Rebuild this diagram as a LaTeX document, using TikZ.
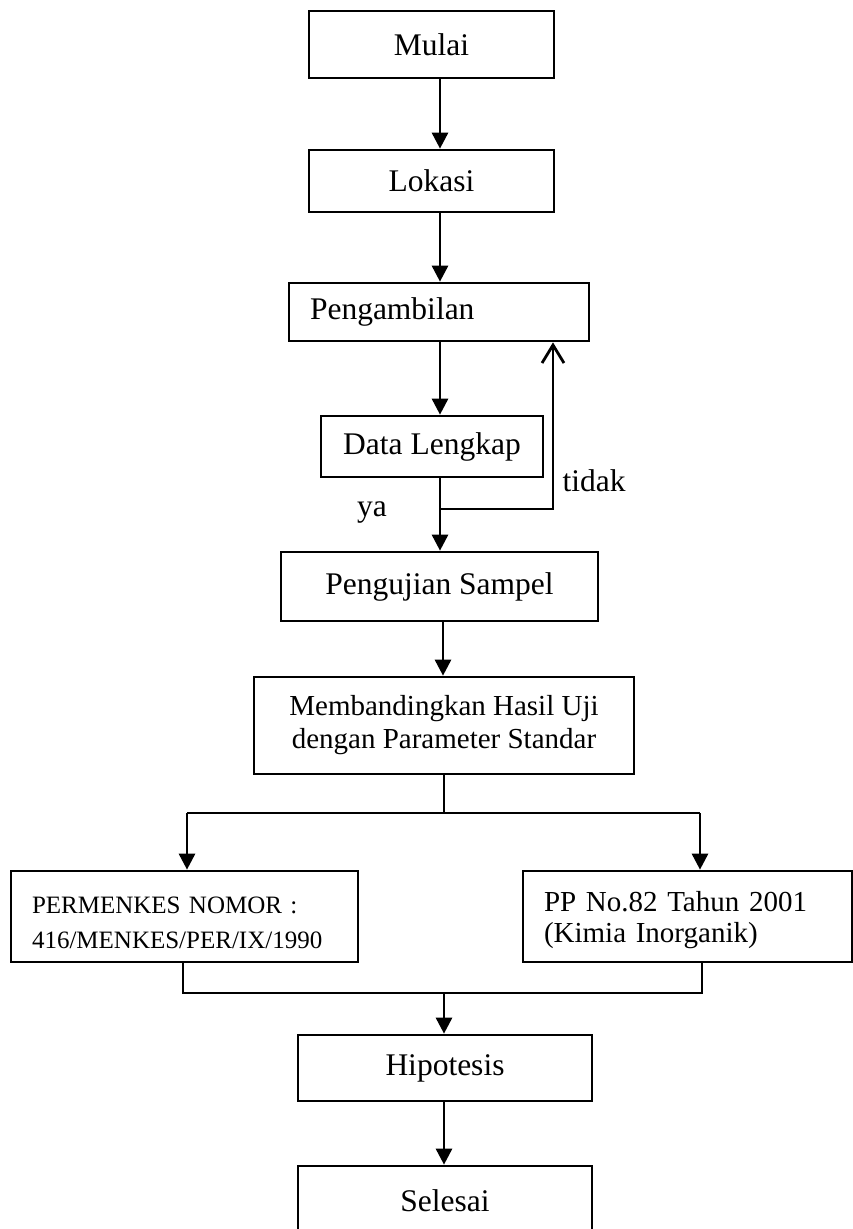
\documentclass[tikz,border=0pt]{standalone}
\usepackage{fontspec}
\setmainfont{Liberation Serif}
\usetikzlibrary{arrows.meta}
\newcommand\turun[2]{\raisebox{-#1}[\height][\depth]{\begin{tabular}{@{}l@{}}#2\end{tabular}}}
\tikzset{
  box/.style={draw, line width=2.7pt, inner sep=0pt, align=center, font=\fontsize{31.5}{36}\selectfont},
  lbox/.style={box, align=left, inner xsep=21pt},
  lab/.style={font=\fontsize{31.5}{36}\selectfont},
  flow/.style={line width=2.8pt, -{Triangle[length=16pt,width=16pt]}},
  tie/.style={line width=2.6pt},
  back/.style={line width=2.8pt, -{Straight Barb[length=18pt,width=22pt,line width=2.8pt]}}
}

\begin{document}
\begin{tikzpicture}[x=1pt,y=-1pt]
\useasboundingbox (0,0) rectangle (853,1229);
% upper column
\coordinate (top) at (440,0);
\node[box, minimum width=245pt, minimum height=67pt] (mulai) at (431.5,44.5) {Mulai};
\node[box, minimum width=245pt, minimum height=62pt] (lokasi) at (431.5,181) {Lokasi};
\node[lbox, text width=258pt, minimum height=58pt] (ambil) at (439,312) {Pengambilan};
\node[box, minimum width=222pt, minimum height=61pt] (data) at (432,446.5) {Data Lengkap};
\node[box, minimum width=317pt, minimum height=69pt] (uji) at (439.5,586.5) {Pengujian Sampel};
\node[box, minimum width=380pt, minimum height=97pt, font=\fontsize{29}{33}\selectfont] (banding) at (444,725.5) {Membandingkan Hasil Uji\\dengan Parameter Standar};
\draw[flow] (mulai.south -| top) -- (lokasi.north -| top);
\draw[flow] (lokasi.south -| top) -- (ambil.north -| top);
\draw[flow] (ambil.south -| top) -- (data.north -| top);
\draw[flow] (data.south -| top) -- (uji.north -| top);
\draw[flow] (uji.south -| 443,0) -- (banding.north -| 443,0);

% loop back when data is not complete
\coordinate (cek) at (440,509);
\coordinate (balik) at (553,509);
\draw[back] (cek) -- (balik) -- (balik |- ambil.south);
\node[lab] (ya) at (372,513) {ya};
\node[lab] (tidak) at (594,481) {tidak};

% the two standards
\node[lbox, text width=305pt, minimum height=91pt, font=\fontsize{25}{35}\selectfont] (permenkes) at (184.5,916.5) {\turun{7pt}{PERMENKES NOMOR :\\416/MENKES/PER/IX/1990}};
\node[lbox, text width=287pt, minimum height=91pt, font=\fontsize{29}{31}\selectfont] (pp) at (687.5,916.5) {\turun{4pt}{PP No.82 Tahun 2001\\(Kimia Inorganik)}};
\coordinate (cabang) at (444,813);
\coordinate (kiri) at (187,813);
\coordinate (kanan) at (700,813);
\draw[tie] (banding.south -| cabang) -- (cabang);
\draw[tie] (kiri) -- (kanan);
\draw[flow] (kiri) -- (kiri |- permenkes.north);
\draw[flow] (kanan) -- (kanan |- pp.north);

% lower column
\node[box, minimum width=294pt, minimum height=66pt] (hipo) at (445,1068) {Hipotesis};
\node[box, minimum width=294pt, minimum height=70pt] (selesai) at (445,1201) {Selesai};
\coordinate (gabung) at (444,993);
\coordinate (gkiri) at (183,993);
\coordinate (gkanan) at (702,993);
\draw[tie] (gkiri |- permenkes.south) -- (gkiri) -- (gkanan) -- (gkanan |- pp.south);
\draw[flow] (gabung) -- (hipo.north -| gabung);
\draw[flow] (hipo.south -| gabung) -- (selesai.north -| gabung);
\end{tikzpicture}
\end{document}
